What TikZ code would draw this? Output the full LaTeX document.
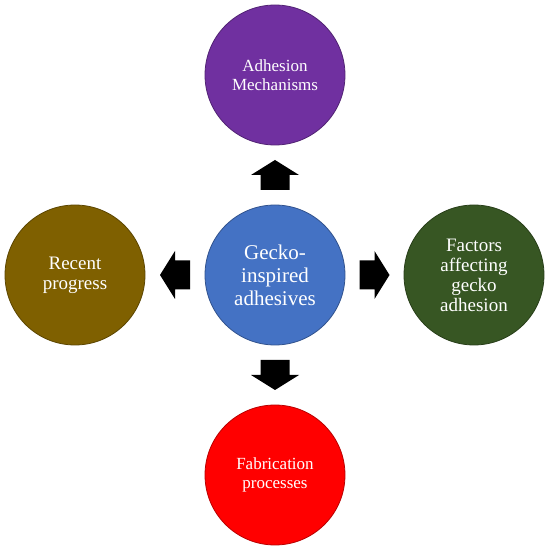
\documentclass[tikz,border=0pt]{standalone}
\usepackage{fontspec}
\setmainfont{Liberation Serif}
\usetikzlibrary{calc}

\begin{document}
\begin{tikzpicture}[
    x=1pt,
    y=1pt,
    topic/.style={circle, minimum size=140pt, inner sep=0pt, fill=#1,
      draw=#1!72!black, line width=0.8pt, text=white, align=center},
    big label/.style={font=\fontsize{21}{23}\selectfont},
    mid label/.style={font=\fontsize{19}{20}\selectfont},
    small label/.style={font=\fontsize{17}{19.5}\selectfont},
    flow arrow/.style={fill=black}
]

\definecolor{hubBlue}{RGB}{68,114,196}
\definecolor{mechPurple}{RGB}{112,48,160}
\definecolor{factorGreen}{RGB}{55,86,35}
\definecolor{progressOlive}{RGB}{127,96,0}
\definecolor{fabRed}{RGB}{255,0,0}

% Block arrow centred at #1 and rotated by #2 degrees.
\newcommand{\flowArrow}[2]{%
  \fill[flow arrow, shift={#1}, rotate=#2]
    (-15,-14.5) -- (0,-14.5) -- (0,-24) -- (15,0) -- (0,24) -- (0,14.5)
    -- (-15,14.5) -- cycle;%
}

\useasboundingbox (0,0) rectangle (549,550);

% Centre topic and the four branches.
\node[topic=hubBlue, big label] (hub) at (275,275) {Gecko-\\inspired\\adhesives};
\node[topic=mechPurple, small label] (mech) at (275,475) {Adhesion\\Mechanisms};
\node[topic=progressOlive, mid label] (progress) at (75,275) {Recent\\progress};
\node[topic=factorGreen, mid label] (factors) at (474,275) {Factors\\affecting\\gecko\\adhesion};
\node[topic=fabRed, small label] (fab) at (275,75) {Fabrication\\processes};

% Arrows half way between the circles.
\flowArrow{($(hub.north)!0.5!(mech.south)$)}{90}
\flowArrow{($(hub.west)!0.5!(progress.east)$)}{180}
\flowArrow{($(hub.east)!0.5!(factors.west)$)}{0}
\flowArrow{($(hub.south)!0.5!(fab.north)$)}{-90}

\end{tikzpicture}
\end{document}
